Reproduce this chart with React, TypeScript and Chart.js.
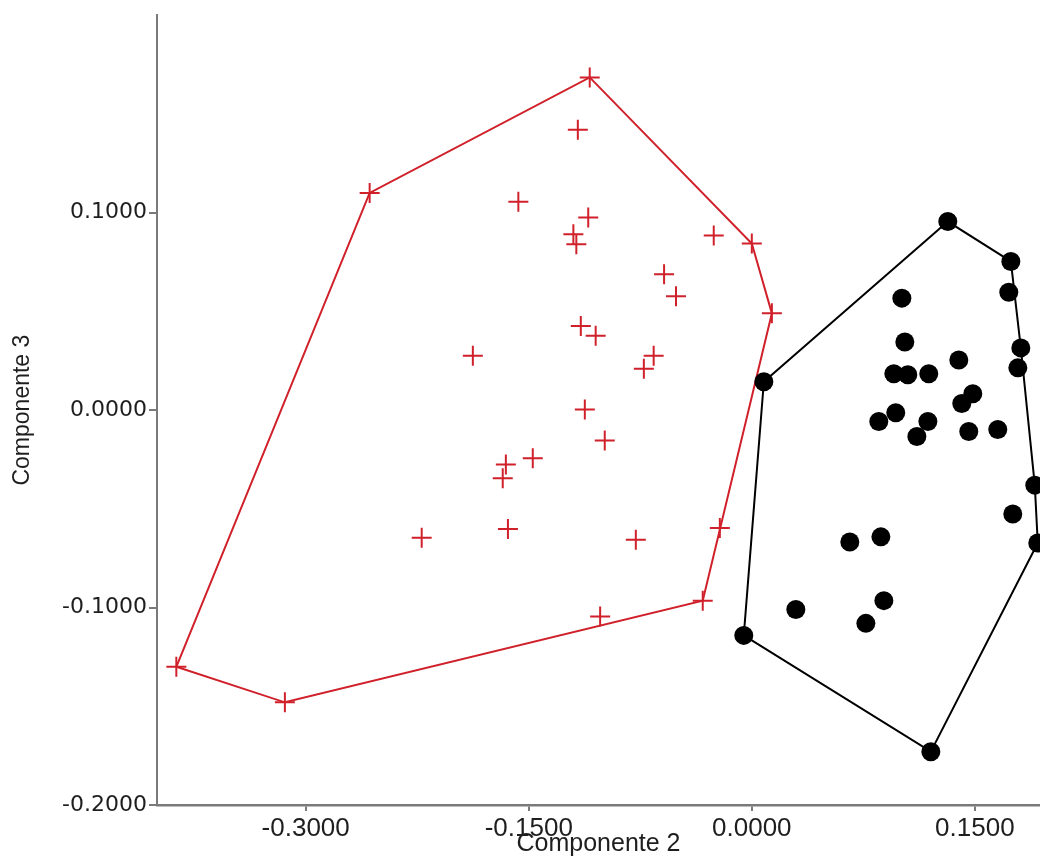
import React, { useEffect, useRef } from 'react';
import { Chart, registerables } from 'chart.js';

Chart.register(...registerables);

// Grupo 1 (cruces rojas)
const redX = [
  -0.109, -0.117, -0.257, -0.157, -0.110, -0.120, -0.118, -0.0256, 0.0, -0.059,
  -0.051, 0.0135, -0.115, -0.105, -0.1876, -0.066, -0.0726, -0.1123, -0.0989, -0.1473,
  -0.1654, -0.1675, -0.222, -0.164, -0.0215, -0.078, -0.033, -0.102, -0.387, -0.314,
];
const redY = [
  0.1685, 0.142, 0.110, 0.1055, 0.0975, 0.089, 0.084, 0.0884, 0.0844, 0.0688,
  0.0577, 0.049, 0.0426, 0.0376, 0.0275, 0.0275, 0.021, 0.0003, -0.0154, -0.0244,
  -0.0275, -0.0345, -0.0647, -0.0602, -0.0597, -0.0657, -0.0965, -0.1045, -0.130, -0.148,
];

// Grupo 2 (círculos negros)
const blackX = [
  0.0081, 0.1318, 0.1742, 0.1728, 0.1009, 0.1029, 0.0955, 0.1049, 0.119, 0.1392,
  0.1809, 0.1789, 0.1486, 0.1412, 0.0968, 0.0854, 0.1184, 0.111, 0.1459, 0.1654,
  0.1903, 0.1755, 0.1923, 0.0659, 0.0868, 0.0296, 0.0888, 0.0767, -0.0054, 0.1204,
];
const blackY = [
  0.0144, 0.0955, 0.0753, 0.0597, 0.0567, 0.0345, 0.0184, 0.0179, 0.0184, 0.0254,
  0.0315, 0.0214, 0.0083, 0.0033, -0.0013, -0.0058, -0.0058, -0.0134, -0.0108, -0.0098,
  -0.038, -0.0526, -0.0673, -0.0668, -0.0642, -0.101, -0.0965, -0.108, -0.1141, -0.173,
];

const xTicks = [-0.3, -0.15, 0.0, 0.15];
const yTicks = [-0.2, -0.1, 0.0, 0.1];

type P = { x: number; y: number };

function toPoints(xs: number[], ys: number[]): P[] {
  return xs.map((x, i) => ({ x, y: ys[i] }));
}

function convexHull(points: P[]): P[] {
  const pts = points.slice().sort((a, b) => (a.x === b.x ? a.y - b.y : a.x - b.x));
  const cross = (o: P, a: P, b: P) => (a.x - o.x) * (b.y - o.y) - (a.y - o.y) * (b.x - o.x);
  const lower: P[] = [];
  for (const p of pts) {
    while (lower.length >= 2 && cross(lower[lower.length - 2], lower[lower.length - 1], p) <= 0) lower.pop();
    lower.push(p);
  }
  const upper: P[] = [];
  for (let i = pts.length - 1; i >= 0; i--) {
    const p = pts[i];
    while (upper.length >= 2 && cross(upper[upper.length - 2], upper[upper.length - 1], p) <= 0) upper.pop();
    upper.push(p);
  }
  upper.pop();
  lower.pop();
  const h = lower.concat(upper);
  h.push(h[0]);
  return h;
}

export default function App() {
  const ref = useRef<HTMLCanvasElement | null>(null);

  useEffect(() => {
    if (!ref.current) return;
    const red = toPoints(redX, redY);
    const black = toPoints(blackX, blackY);
    const redColor = '#d0212b';
    const axisColor = '#7a7a7a';
    const textColor = '#1e1e1e';

    const chart = new Chart(ref.current, {
      type: 'scatter',
      data: {
        datasets: [
          {
            type: 'line',
            label: 'hull2',
            data: convexHull(black),
            borderColor: '#000000',
            borderWidth: 2,
            pointRadius: 0,
            fill: false,
            tension: 0,
            order: 3,
          } as any,
          {
            type: 'line',
            label: 'hull1',
            data: convexHull(red),
            borderColor: redColor,
            borderWidth: 2,
            pointRadius: 0,
            fill: false,
            tension: 0,
            order: 2,
          } as any,
          {
            label: 'Grupo 2',
            data: black,
            pointStyle: 'circle',
            pointRadius: 9.5,
            backgroundColor: '#000000',
            borderColor: '#000000',
            borderWidth: 0,
            order: 1,
          },
          {
            label: 'Grupo 1',
            data: red,
            pointStyle: 'cross',
            pointRadius: 10,
            borderColor: redColor,
            borderWidth: 2,
            order: 0,
          },
        ],
      },
      options: {
        animation: false,
        responsive: false,
        maintainAspectRatio: false,
        events: [],
        layout: { autoPadding: false, padding: { top: 11, right: 0, left: 0, bottom: 0 } },
        plugins: {
          legend: { display: false },
          tooltip: { enabled: false },
        },
        scales: {
          x: {
            type: 'linear',
            min: -0.4,
            max: 0.1938,
            afterBuildTicks: (s: any) => {
              s.ticks = xTicks.map((v) => ({ value: v }));
            },
            afterFit: (s: any) => {
              s.height = 57;
            },
            grid: {
              display: true,
              drawOnChartArea: false,
              drawTicks: true,
              tickLength: 6,
              color: axisColor,
              lineWidth: 2,
            },
            border: { display: true, color: axisColor, width: 2.5 },
            ticks: {
              autoSkip: false,
              maxRotation: 0,
              padding: 2,
              color: textColor,
              font: { family: 'Liberation Sans', size: 26 },
              callback: (v: any) => Number(v).toFixed(4),
            },
            title: {
              display: true,
              text: 'Componente 2',
              color: textColor,
              font: { family: 'Liberation Sans', size: 25 },
              padding: { top: 0, bottom: 3 },
            },
          },
          y: {
            type: 'linear',
            min: -0.2,
            max: 0.2,
            afterBuildTicks: (s: any) => {
              s.ticks = yTicks.map((v) => ({ value: v }));
            },
            afterFit: (s: any) => {
              s.width = 157;
            },
            grid: {
              display: true,
              drawOnChartArea: false,
              drawTicks: true,
              tickLength: 8,
              color: axisColor,
              lineWidth: 2,
            },
            border: { display: true, color: axisColor, width: 2 },
            ticks: {
              autoSkip: false,
              padding: 2,
              color: textColor,
              font: { family: 'DejaVu Sans', size: 22 },
              callback: (v: any) => Number(v).toFixed(4),
            },
            title: {
              display: true,
              text: 'Componente 3',
              color: textColor,
              font: { family: 'Liberation Sans', size: 23 },
              padding: { top: 9, bottom: 0 },
            },
          },
        },
      },
    });
    return () => chart.destroy();
  }, []);

  return (
    <div style={{ position: 'absolute', left: 0, top: 0, width: 1040, height: 862, background: '#ffffff' }}>
      <canvas ref={ref} width={1040} height={862} style={{ display: 'block' }} />
    </div>
  );
}
